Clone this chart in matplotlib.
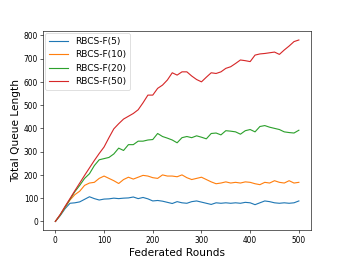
import numpy as np
import matplotlib
matplotlib.use('Agg')
import matplotlib.pyplot as plt

rounds = list(range(0, 510, 10))

q5 = [0, 25, 55, 78, 80, 84, 95, 106, 98, 92, 96,
      97, 100, 98, 100, 101, 105, 98, 103, 97, 88,
      90, 87, 82, 77, 85, 80, 78, 85, 88, 83,
      78, 73, 80, 78, 80, 78, 80, 78, 82, 80,
      72, 80, 88, 85, 80, 78, 80, 78, 80, 88]

q10 = [0, 28, 60, 92, 115, 130, 155, 165, 168, 185, 195,
       185, 175, 163, 180, 190, 182, 190, 198, 195, 188,
       185, 200, 195, 195, 192, 200, 188, 180, 185, 190,
       180, 170, 162, 165, 170, 165, 168, 165, 170, 168,
       162, 158, 168, 165, 175, 168, 165, 175, 165, 168]

q20 = [0, 28, 62, 95, 128, 155, 185, 205, 240, 265, 270,
       275, 290, 315, 305, 330, 330, 345, 345, 350, 352,
       378, 365, 358, 350, 338, 360, 365, 360, 368, 362,
       355, 378, 380, 372, 390, 388, 385, 375, 390, 395,
       385, 408, 412, 405, 400, 395, 385, 382, 380, 392]

q50 = [0, 30, 65, 98, 132, 165, 198, 230, 262, 292, 320,
       360, 398, 420, 440, 452, 464, 480, 510, 543, 543,
       572, 586, 608, 639, 629, 643, 643, 625, 610, 600,
       620, 639, 636, 643, 658, 665, 679, 694, 691, 687,
       715, 720, 722, 725, 728, 718, 737, 754, 773, 780]

series = [(q5, 'RBCS-F(5)'), (q10, 'RBCS-F(10)'),
          (q20, 'RBCS-F(20)'), (q50, 'RBCS-F(50)')]

fig = plt.figure(figsize=(6.4, 4.8), dpi=54)
ax = fig.add_subplot(111)
for vals, name in series:
    ax.plot(rounds, vals, label=name)

ax.set_xlabel('Federated Rounds', fontsize=14)
ax.set_ylabel('Total Queue Length', fontsize=14)
ax.legend(loc='upper left', fontsize=12, borderaxespad=0.25, handlelength=2.1)
fig.savefig('out.png', dpi=54)
